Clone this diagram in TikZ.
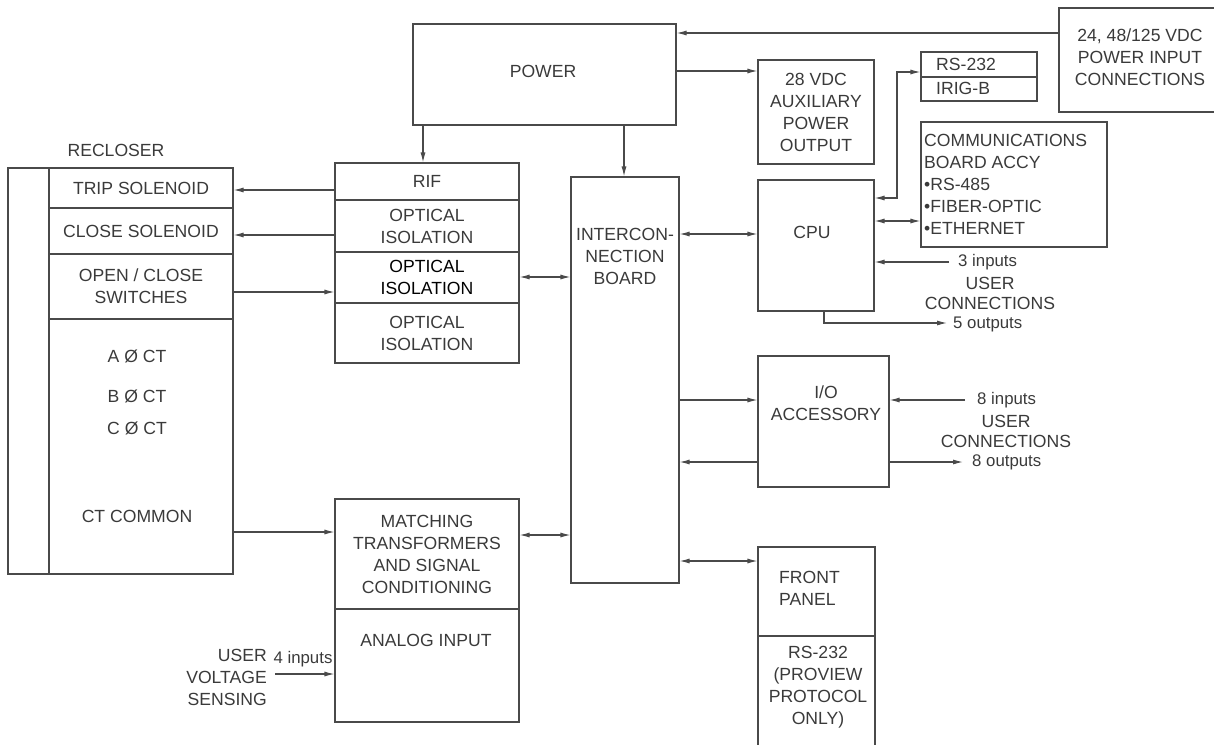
\documentclass[tikz,border=0pt]{standalone}
\usepackage{fontspec}
\setmainfont{Liberation Sans}
\usetikzlibrary{arrows.meta,calc}
\definecolor{linec}{HTML}{4A4A4A}
\definecolor{textc}{HTML}{3A3A3A}
\newcommand\dfs{\fontsize{17.6}{22}\selectfont}
\newcommand\sfs{\fontsize{16.8}{21}\selectfont}
\begin{document}
\begin{tikzpicture}[x=1pt,y=-1pt,
  box/.style={draw=linec, line width=1.1pt, inner sep=0pt},
  txt/.style={text=textc, font=\dfs, align=center, inner sep=0pt},
  stxt/.style={text=textc, font=\sfs, align=center, inner sep=0pt},
  tip/.tip={Latex[length=10pt,width=5pt]},
  arr/.style={draw=linec, line width=1.1pt, -tip},
  dbl/.style={draw=linec, line width=1.1pt, tip-tip}]
\useasboundingbox (0,0) rectangle (1214,744);

% ---------- Recloser ----------
\node[box, minimum width=225pt, minimum height=406pt] (rec) at (120.5,371) {};
\node[box, minimum width=41pt, minimum height=406pt] (recstrip) at (28.5,371) {};
\node[box, txt, minimum width=184pt, minimum height=40pt] (trip) at (141,188) {TRIP SOLENOID};
\node[box, txt, minimum width=184pt, minimum height=46pt] (close) at (141,231) {CLOSE SOLENOID};
\node[box, txt, minimum width=184pt, minimum height=65pt] (open) at (141,286.5) {OPEN / CLOSE\\SWITCHES};
\node[box, minimum width=184pt, minimum height=255pt] (ct) at (141,446.5) {};
\node[txt] (reclbl) at (116,150) {RECLOSER};
\node[txt] (cta) at (137,356) {A Ø CT};
\node[txt] (ctb) at (137,396) {B Ø CT};
\node[txt] (ctc) at (137,428) {C Ø CT};
\node[txt] (ctcom) at (137,516) {CT COMMON};

% ---------- RIF stack ----------
\node[box, txt, minimum width=184pt, minimum height=37pt] (rif) at (427,181.5) {RIF};
\node[box, txt, minimum width=184pt, minimum height=52pt] (opt1) at (427,226) {OPTICAL\\ISOLATION};
\node[box, txt, text=black, minimum width=184pt, minimum height=51pt] (opt2) at (427,277.5) {OPTICAL\\ISOLATION};
\node[box, txt, minimum width=184pt, minimum height=60pt] (opt3) at (427,333) {OPTICAL\\ISOLATION};

% ---------- Matching / analog ----------
\node[box, txt, minimum width=184pt, minimum height=110pt] (match) at (427,554) {MATCHING\\TRANSFORMERS\\AND SIGNAL\\CONDITIONING};
\node[box, minimum width=184pt, minimum height=113pt] (analog) at (427,665.5) {};
\node[txt] (analoglbl) at (426,640) {ANALOG INPUT};
\node[txt, anchor=east, align=right] (uvslbl) at (267,677) {USER\\VOLTAGE\\SENSING};
\node[stxt] (in4) at (303,659) {4 inputs};

% ---------- Power, interconnection ----------
\node[box, minimum width=263pt, minimum height=101pt] (power) at (544.5,74.5) {};
\node[txt] (powerlbl) at (543,71) {POWER};
\node[box, minimum width=108pt, minimum height=406pt] (int) at (625,380) {};
\node[txt] (intlbl) at (625,256) {INTERCON-\\NECTION\\BOARD};

% ---------- Right side ----------
\node[box, txt, minimum width=116pt, minimum height=104pt] (aux) at (816,112) {28 VDC\\AUXILIARY\\POWER\\OUTPUT};
\node[box, minimum width=166pt, minimum height=104pt] (pib) at (1142,60) {};
\node[txt] (piblbl) at (1140,57) {24, 48/125 VDC\\POWER INPUT\\CONNECTIONS};
\node[box, minimum width=116pt, minimum height=25pt] (rs) at (979,64.5) {};
\node[box, minimum width=116pt, minimum height=24pt] (irig) at (979,89) {};
\node[txt, anchor=west] (rslbl) at (936,64) {RS-232};
\node[txt, anchor=west] (iriglbl) at (936,88) {IRIG-B};
\node[box, minimum width=116pt, minimum height=131pt] (cpu) at (816,245.5) {};
\node[txt] (cpulbl) at (812,232) {CPU};
\node[box, minimum width=186pt, minimum height=125pt] (comm) at (1014,184.5) {};
\node[txt, anchor=west, align=left] (commlbl) at (924,184) {COMMUNICATIONS\\BOARD ACCY\\•RS-485\\•FIBER-OPTIC\\•ETHERNET};
\node[stxt, anchor=west] (in3lbl) at (958,262) {3 inputs};
\node[txt] (uc1) at (990,283) {USER};
\node[txt] (uc1b) at (990,303) {CONNECTIONS};
\node[stxt, anchor=west] (out5lbl) at (953,324) {5 outputs};

\node[box, minimum width=131pt, minimum height=131pt] (io) at (823.5,421.5) {};
\node[txt] (iolbl) at (826,403) {I/O\\ACCESSORY};
\node[stxt, anchor=west] (in8lbl) at (977,400) {8 inputs};
\node[txt] (uc2) at (1006,421) {USER};
\node[txt] (uc2b) at (1006,441) {CONNECTIONS};
\node[stxt, anchor=west] (out8lbl) at (972,462) {8 outputs};

\node[box, minimum width=117pt, minimum height=89pt] (fp) at (816.5,591.5) {};
\node[txt, anchor=west, align=left] (fplbl) at (779,588.5) {FRONT\\PANEL};
\node[box, minimum width=117pt, minimum height=134pt] (fprs) at (816.5,703) {};
\node[txt] (fprslbl) at (818,687.5) {RS-232\\(PROVIEW\\PROTOCOL\\ONLY)};

% ---------- Connectors ----------
\draw[arr] (rif.west |- 0,190) -- (trip.east |- 0,190);
\draw[arr] (opt1.west |- 0,235) -- (close.east |- 0,235);
\draw[arr] (open.east |- 0,292) -- (opt2.west |- 0,292);
\draw[dbl] (opt2.east |- 0,277) -- (int.west |- 0,277);
\draw[arr] (ct.east |- 0,532) -- (match.west |- 0,532);
\draw[dbl] (match.east |- 0,535) -- (int.west |- 0,535);
\coordinate (uvs) at (275,674);
\draw[arr] (uvs) -- (analog.west |- uvs);

\draw[arr] (power.south -| 423,0) -- (rif.north -| 423,0);
\draw[arr] (power.south -| 624,0) -- (int.north -| 624,0);
\draw[arr] (pib.west |- 0,33) -- (power.east |- 0,33);
\draw[arr] (power.east |- 0,71) -- (aux.west |- 0,71);
\draw[dbl] (int.east |- 0,234) -- (cpu.west |- 0,234);
\draw[dbl] (cpu.east |- 0,198) -| (897,72) -- (rs.west |- 0,72);
\draw[dbl] (cpu.east |- 0,221) -- (comm.west |- 0,221);
\coordinate (in3) at (949,262);
\draw[arr] (in3) -- (cpu.east |- in3);
\coordinate (out5) at (947,323);
\draw[arr] (cpu.south -| 824,0) |- (out5);

\draw[arr] (int.east |- 0,400) -- (io.west |- 0,400);
\draw[arr] (io.west |- 0,462) -- (int.east |- 0,462);
\coordinate (in8) at (965,400);
\draw[arr] (in8) -- (io.east |- in8);
\coordinate (out8) at (963,462);
\draw[arr] (io.east |- out8) -- (out8);
\draw[dbl] (int.east |- 0,561) -- (fp.west |- 0,561);
\end{tikzpicture}
\end{document}
